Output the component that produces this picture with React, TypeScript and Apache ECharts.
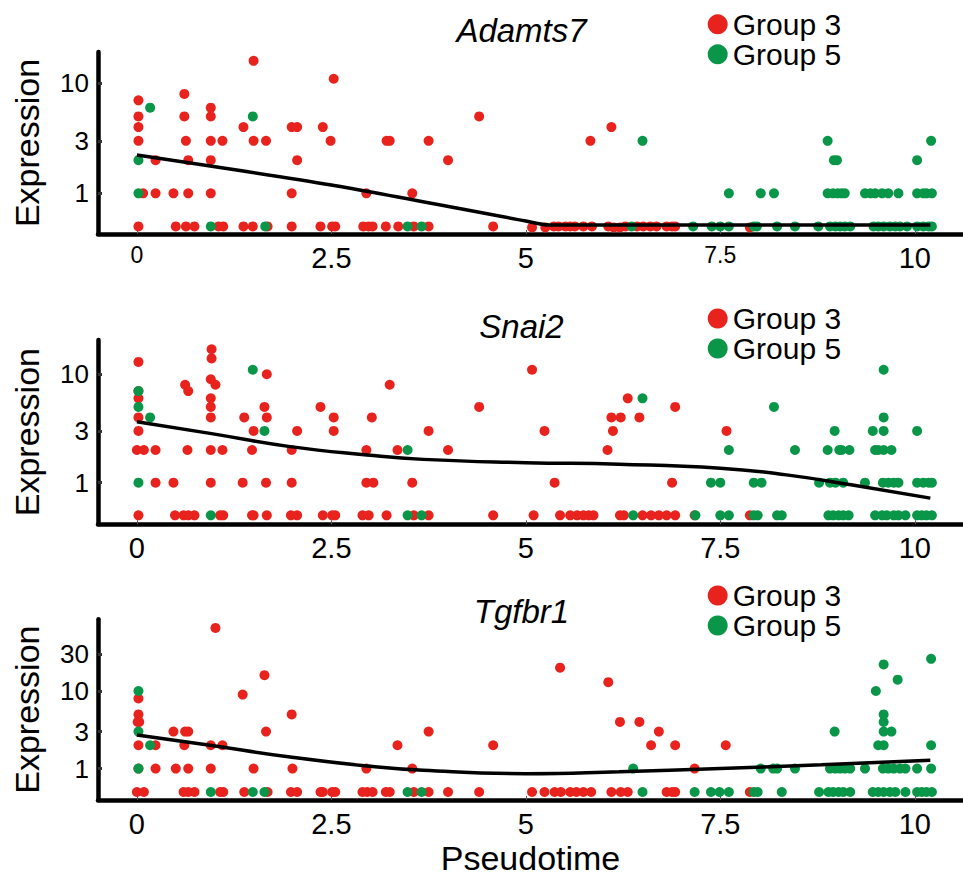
import React, { useEffect, useRef } from 'react';
import * as echarts from 'echarts';

const RED = '#E8231E';
const GREEN = '#0A9648';

const panelTitles = ['Adamts7', 'Snai2', 'Tgfbr1'];
const groupNames = ['Group 3', 'Group 5'];
const xTicks = [0, 2.5, 5, 7.5, 10];
const yTicksA = [1, 3, 10];
const yTicksB = [1, 3, 10];
const yTicksC = [1, 3, 10, 30];

// ---- Adamts7 ----
const adamts7G3: number[][] = [
  [1.5, 16], [2.53, 11], [0.61, 8], [0.02, 7], [0.95, 6],
  [0.02, 5], [0.61, 5], [0.95, 5], [4.4, 5],
  [0.02, 4], [1.37, 4], [1.99, 4], [2.06, 4], [2.39, 4], [6.1, 4],
  [0.02, 3], [0.63, 3], [0.95, 3], [1.1, 3], [1.5, 3], [1.66, 3], [2.49, 3], [3.21, 3], [3.25, 3], [3.75, 3], [5.83, 3],
  [0.24, 2], [0.66, 2], [0.95, 2], [2.06, 2], [4.0, 2],
  [0.08, 1], [0.24, 1], [0.47, 1], [0.66, 1], [0.95, 1], [1.99, 1], [2.95, 1], [3.54, 1],
  [0.02, 0.5], [0.5, 0.5], [0.63, 0.5], [0.74, 0.5], [1.05, 0.5], [1.11, 0.5], [1.37, 0.5], [1.49, 0.5], [1.68, 0.5],
  [1.99, 0.5], [2.36, 0.5], [2.51, 0.5], [2.55, 0.5], [2.91, 0.5], [2.98, 0.5], [3.03, 0.5], [3.2, 0.5], [3.36, 0.5],
  [3.56, 0.5], [3.75, 0.5], [4.58, 0.5], [5.08, 0.49], [5.25, 0.49], [5.36, 0.5], [5.42, 0.5], [5.51, 0.5], [5.57, 0.5],
  [5.63, 0.5], [5.74, 0.5], [5.85, 0.5], [6.06, 0.5], [6.13, 0.49], [6.21, 0.49], [6.28, 0.5], [6.43, 0.5], [6.51, 0.5],
  [6.6, 0.5], [6.68, 0.5], [6.81, 0.5], [6.88, 0.5], [6.92, 0.5], [7.88, 0.49],
];
const adamts7G5: number[][] = [
  [0.17, 6], [1.49, 5], [6.5, 3], [8.88, 3], [10.21, 3], [8.96, 2], [9.0, 2], [10.03, 2], [0.02, 2],
  [0.02, 1], [7.61, 1], [8.02, 1], [8.19, 1], [8.88, 1], [8.95, 1], [9.01, 1], [9.06, 1], [9.1, 1], [9.36, 1],
  [9.43, 1], [9.49, 1], [9.58, 1], [9.66, 1], [9.79, 1], [10.03, 1], [10.11, 1], [10.15, 1], [10.22, 1],
  [0.95, 0.5], [1.65, 0.5], [3.48, 0.5], [3.66, 0.5], [6.36, 0.5], [7.15, 0.5], [7.39, 0.5], [7.5, 0.5], [7.61, 0.5],
  [7.93, 0.5], [7.97, 0.5], [8.23, 0.5], [8.46, 0.5], [8.76, 0.5], [8.91, 0.5], [8.98, 0.5], [9.04, 0.5], [9.1, 0.5],
  [9.17, 0.5], [9.47, 0.5], [9.53, 0.5], [9.6, 0.5], [9.68, 0.5], [9.75, 0.5], [9.81, 0.5], [9.9, 0.5], [10.03, 0.5],
  [10.11, 0.5], [10.18, 0.5], [10.22, 0.5],
];
const adamts7TrendX = [0, 2.5, 5, 5.3, 6, 10.2];
const adamts7TrendY = [2.23, 1.19, 0.56, 0.515, 0.515, 0.515];

// ---- Snai2 ----
const snai2G3: number[][] = [
  [0.02, 13], [0.96, 17], [0.96, 14], [0.95, 9], [1.01, 8], [0.95, 6], [0.95, 5], [0.95, 4], [0.95, 2], [0.95, 1],
  [1.67, 10], [0.62, 8], [0.66, 7], [0.02, 7], [0.02, 6], [0.02, 4], [0.02, 3], [0.0, 2], [0.09, 2],
  [0.24, 2], [0.24, 1], [0.47, 1], [0.65, 2], [1.38, 4], [1.5, 3], [1.48, 2], [1.1, 2], [1.64, 5], [1.67, 4],
  [1.36, 1], [1.66, 1], [2.06, 3], [1.99, 2], [1.99, 1], [2.36, 5], [2.53, 4], [2.53, 3], [3.25, 8], [3.02, 4],
  [2.95, 2], [2.95, 1], [3.04, 1], [3.35, 2], [3.54, 1], [3.75, 3], [4.0, 2], [4.4, 5], [5.08, 11],
  [5.24, 3], [5.37, 1], [6.31, 6], [6.92, 5], [6.1, 4], [6.22, 4], [6.46, 4], [6.12, 3], [6.05, 2], [6.88, 1], [7.58, 3],
  [0.02, 0.5], [0.49, 0.5], [0.6, 0.5], [0.66, 0.5], [0.74, 0.5], [1.07, 0.5], [1.11, 0.5], [1.48, 0.5], [1.5, 0.5],
  [1.67, 0.5], [1.98, 0.5], [2.06, 0.5], [2.39, 0.5], [2.51, 0.5], [2.55, 0.5], [2.9, 0.5], [2.98, 0.5], [3.21, 0.5],
  [3.56, 0.5], [3.75, 0.5], [4.58, 0.5], [5.1, 0.5], [5.44, 0.5], [5.57, 0.5], [5.66, 0.5], [5.74, 0.5], [5.81, 0.5],
  [5.87, 0.5], [6.21, 0.5], [6.26, 0.5], [6.5, 0.5], [6.61, 0.5], [6.71, 0.5], [6.81, 0.5], [6.92, 0.5], [7.17, 0.5],
  [7.88, 0.5],
];
const snai2G5: number[][] = [
  [1.49, 11], [0.02, 7], [0.02, 5], [0.17, 4], [1.64, 3], [0.02, 1], [3.48, 2], [6.5, 6], [7.61, 2], [8.19, 5],
  [8.46, 2], [9.6, 11], [9.6, 4], [8.97, 3], [9.46, 3], [9.6, 3], [10.03, 3],
  [8.88, 2], [9.03, 2], [9.06, 2], [9.16, 2], [9.49, 2], [9.53, 2], [9.6, 2], [9.7, 2],
  [7.38, 1], [7.5, 1], [7.93, 1], [8.03, 1], [8.77, 1], [8.91, 1], [8.98, 1], [9.08, 1], [9.36, 1], [9.59, 1],
  [9.66, 1], [9.73, 1], [9.79, 1], [10.03, 1], [10.11, 1], [10.18, 1], [10.22, 1],
  [0.95, 0.5], [3.48, 0.5], [3.66, 0.5], [6.38, 0.5], [7.18, 0.5], [7.5, 0.5], [7.61, 0.5], [7.93, 0.5], [7.98, 0.5],
  [8.23, 0.5], [8.29, 0.5], [8.89, 0.5], [8.95, 0.5], [9.02, 0.5], [9.08, 0.5], [9.15, 0.5], [9.49, 0.5], [9.58, 0.5],
  [9.64, 0.5], [9.73, 0.5], [9.79, 0.5], [9.88, 0.5], [10.03, 0.5], [10.09, 0.5], [10.15, 0.5], [10.22, 0.5],
];
const snai2TrendX = [0, 0.94, 1.97, 2.96, 3.68, 5, 6.2, 7.5, 8.35, 9.2, 10.2];
const snai2TrendY = [3.65, 2.85, 2.15, 1.8, 1.64, 1.53, 1.48, 1.36, 1.18, 0.95, 0.72];

// ---- Tgfbr1 ----
const tgfbr1G3: number[][] = [
  [1.01, 65], [1.64, 16], [1.36, 9], [1.99, 5], [0.02, 8], [0.02, 5], [0.01, 4], [0.03, 4],
  [0.47, 3], [0.62, 3], [0.66, 3], [1.66, 3], [3.75, 3],
  [0.02, 2], [0.24, 2], [0.61, 2], [0.95, 2], [1.1, 2], [3.35, 2], [4.58, 2],
  [0.02, 1], [0.24, 1], [0.5, 1], [0.66, 1], [0.95, 1], [1.5, 1], [2.0, 1], [2.95, 1], [3.54, 1],
  [5.44, 20], [6.06, 13], [6.21, 4], [6.46, 4], [6.71, 3], [6.61, 2], [6.92, 2], [7.57, 2], [7.17, 1],
  [0.0, 0.5], [0.09, 0.5], [0.6, 0.5], [0.66, 0.5], [0.74, 0.5], [1.07, 0.5], [1.11, 0.5], [1.38, 0.5], [1.68, 0.5],
  [1.98, 0.5], [2.06, 0.5], [2.36, 0.5], [2.39, 0.5], [2.51, 0.5], [2.55, 0.5], [2.9, 0.5], [2.96, 0.5], [3.03, 0.5],
  [3.2, 0.5], [3.25, 0.5], [3.56, 0.5], [3.75, 0.5], [4.0, 0.5], [4.4, 0.5], [5.08, 0.5], [5.24, 0.5], [5.37, 0.5],
  [5.45, 0.5], [5.57, 0.5], [5.65, 0.5], [5.74, 0.5], [5.84, 0.5], [6.1, 0.5], [6.22, 0.5], [6.31, 0.5], [6.81, 0.5],
  [6.88, 0.5], [6.92, 0.5], [7.88, 0.5],
];
const tgfbr1G5: number[][] = [
  [0.02, 10], [0.02, 3], [0.17, 2], [0.02, 1], [6.38, 1], [10.21, 26], [9.6, 22], [9.78, 14], [9.5, 10], [9.6, 5],
  [9.6, 4], [8.97, 3], [9.6, 3], [9.7, 3], [9.53, 2], [9.6, 2], [10.21, 2],
  [8.02, 1], [8.18, 1], [8.23, 1], [8.46, 1], [8.91, 1], [8.98, 1], [9.04, 1], [9.1, 1], [9.17, 1], [9.36, 1],
  [9.59, 1], [9.66, 1], [9.73, 1], [9.81, 1], [9.88, 1], [10.03, 1], [10.21, 1],
  [0.95, 0.5], [1.49, 0.5], [1.64, 0.5], [3.48, 0.5], [3.66, 0.5], [6.5, 0.5], [7.17, 0.5], [7.38, 0.5], [7.49, 0.5],
  [7.61, 0.5], [7.93, 0.5], [7.98, 0.5], [8.29, 0.5], [8.77, 0.5], [8.89, 0.5], [8.95, 0.5], [9.02, 0.5], [9.08, 0.5],
  [9.17, 0.5], [9.46, 0.5], [9.53, 0.5], [9.6, 0.5], [9.68, 0.5], [9.75, 0.5], [9.88, 0.5], [10.03, 0.5], [10.09, 0.5],
  [10.15, 0.5], [10.22, 0.5],
];
const tgfbr1TrendX = [0, 0.94, 1.97, 2.96, 3.68, 5, 6.2, 7.5, 8.8, 10.2];
const tgfbr1TrendY = [2.72, 2.0, 1.41, 1.08, 0.95, 0.86, 0.91, 1.0, 1.12, 1.28];

const FONT = '"Liberation Sans", Arial, sans-serif';

export default function App() {
  const ref = useRef<HTMLDivElement>(null);
  useEffect(() => {
    if (!ref.current) return;
    const chart = echarts.init(ref.current, undefined, { renderer: 'svg' });

    const panels = [
      { g3: adamts7G3, g5: adamts7G5, tx: adamts7TrendX, ty: adamts7TrendY, yTicks: yTicksA, smooth: 0.25,
        top: 52, height: 182, yMin: 0.4266, yMax: 19.25, legendTop: 9.3, titleY: 30.5 },
      { g3: snai2G3, g5: snai2G5, tx: snai2TrendX, ty: snai2TrendY, yTicks: yTicksB, smooth: 0.5,
        top: 340, height: 184.3, yMin: 0.413, yMax: 20.7, legendTop: 303.5, titleY: 326.5 },
      { g3: tgfbr1G3, g5: tgfbr1G5, tx: tgfbr1TrendX, ty: tgfbr1TrendY, yTicks: yTicksC, smooth: 0.5,
        top: 619.3, height: 182.4, yMin: 0.394, yMax: 84, legendTop: 580.5, titleY: 611 },
    ];

    const grid = panels.map((p) => ({ left: 98, width: 865, top: p.top, height: p.height }));

    const xAxis = panels.map((p, i) => ({
      type: 'value',
      gridIndex: i,
      min: -0.5,
      max: 10.62,
      axisLine: { show: true, onZero: false, lineStyle: { color: '#000', width: 4.5 } },
      axisTick: { show: true, inside: true, length: 4, customValues: xTicks, lineStyle: { color: '#555', width: 1 } },
      axisLabel: {
        show: true,
        customValues: xTicks,
        margin: 9,
        color: '#000',
        fontSize: 29,
        fontFamily: FONT,
        formatter: (v: number) => (i === 0 && (v === 0 || v === 7.5) ? `{s|${v}}` : `${v}`),
        rich: { s: { fontSize: 23, fontFamily: FONT, color: '#000' } },
      },
      splitLine: { show: false },
      ...(i === 2
        ? {
            name: 'Pseudotime',
            nameLocation: 'middle',
            nameGap: 41,
            nameMoveOverlap: false,
            nameTextStyle: { fontSize: 34, color: '#000', fontFamily: FONT },
          }
        : {}),
    }));

    const yAxis = panels.map((p, i) => ({
      type: 'log',
      logBase: 10,
      gridIndex: i,
      min: p.yMin,
      max: p.yMax,
      axisLine: { show: true, onZero: false, lineStyle: { color: '#000', width: 4.5 } },
      axisTick: { show: true, inside: true, length: 4, customValues: p.yTicks, lineStyle: { color: '#333', width: 3 } },
      axisLabel: {
        show: true,
        customValues: p.yTicks,
        margin: 9,
        color: '#000',
        fontSize: 26,
        fontFamily: FONT,
        formatter: (v: number) => String(Math.round(v)),
      },
      minorTick: { show: false },
      splitLine: { show: false },
      name: 'Expression',
      nameLocation: 'middle',
      nameGap: 54,
      nameMoveOverlap: false,
      nameTextStyle: { fontSize: 34, color: '#000', fontFamily: FONT },
    }));

    const series: any[] = [];
    panels.forEach((p, i) => {
      series.push({
        type: 'scatter', name: groupNames[0], xAxisIndex: i, yAxisIndex: i,
        data: p.g3, symbol: 'circle', symbolSize: 10, itemStyle: { color: RED, opacity: 1 }, z: 2, silent: true,
      });
      series.push({
        type: 'scatter', name: groupNames[1], xAxisIndex: i, yAxisIndex: i,
        data: p.g5, symbol: 'circle', symbolSize: 10, itemStyle: { color: GREEN, opacity: 1 }, z: 2, silent: true,
      });
      series.push({
        type: 'line', name: 'trend' + i, xAxisIndex: i, yAxisIndex: i,
        data: p.tx.map((x, j) => [x, p.ty[j]]), smooth: p.smooth, showSymbol: false, symbol: 'none',
        lineStyle: { color: '#000', width: 3.5 }, z: 3, silent: true,
      });
    });

    const legend = panels.map((p) => ({
      data: groupNames,
      orient: 'vertical',
      left: 707.7,
      top: p.legendTop,
      itemWidth: 20,
      itemHeight: 20,
      itemGap: 0,
      padding: 0,
      icon: 'circle',
      selectedMode: false,
      textStyle: { fontSize: 30, lineHeight: 30, color: '#000', fontFamily: FONT },
    }));

    const graphic = panels.map((p, i) => ({
      type: 'text',
      x: 521.5,
      y: p.titleY,
      style: {
        text: panelTitles[i],
        fontSize: 33,
        fontStyle: 'italic',
        fontFamily: FONT,
        fill: '#000',
        align: 'center',
        verticalAlign: 'middle',
      },
    }));

    chart.setOption({
      animation: false,
      backgroundColor: '#fff',
      textStyle: { fontFamily: FONT },
      grid,
      xAxis,
      yAxis,
      legend,
      graphic,
      series,
    } as any);

    return () => chart.dispose();
  }, []);

  return (
    <div
      ref={ref}
      style={{ position: 'fixed', left: 0, top: 0, width: 963, height: 876, background: '#fff' }}
    />
  );
}
